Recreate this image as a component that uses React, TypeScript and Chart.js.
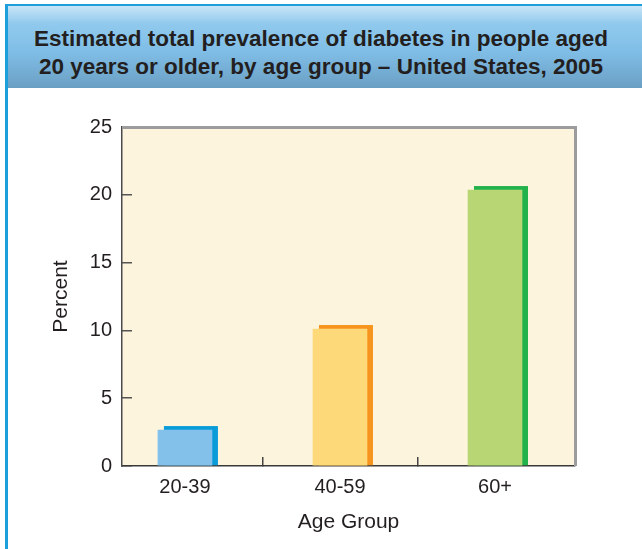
import React, { useEffect, useRef } from "react";
import { Chart, registerables } from "chart.js";

Chart.register(...registerables);

const titleLines = [
  "Estimated total prevalence of diabetes in people aged",
  "20 years or older, by age group \u2013 United States, 2005",
];
const categories = ["20-39", "40-59", "60+"];
const prevalence = [2.65, 10.1, 20.35];
const frontColors = ["#83c1ea", "#fdd97a", "#b8d673"];
const shadowColors = ["#0a9bd9", "#f7941e", "#22b24c"];
const yMin = 0;
const yMax = 25;
const yStep = 5;
const xTitle = "Age Group";
const yTitle = "Percent";

const FONT = "'Liberation Sans', Arial, Helvetica, sans-serif";

export default function App() {
  const ref = useRef<HTMLCanvasElement | null>(null);

  useEffect(() => {
    const canvas = ref.current;
    if (!canvas) return;

    const plotBackground = {
      id: "plotBackground",
      beforeDraw(chart: any) {
        const { ctx, chartArea: a } = chart;
        ctx.save();
        ctx.fillStyle = "#fdf4de";
        ctx.fillRect(a.left, a.top, a.right - a.left, a.bottom - a.top);
        ctx.restore();
      },
    };

    const shadowBars = {
      id: "shadowBars",
      beforeDatasetsDraw(chart: any) {
        const { ctx } = chart;
        const meta = chart.getDatasetMeta(0);
        const dx = 6;
        const dy = 4;
        ctx.save();
        meta.data.forEach((el: any, i: number) => {
          const p = el.getProps(["x", "y", "base", "width"], true);
          ctx.fillStyle = shadowColors[i];
          ctx.fillRect(p.x - p.width / 2 + dx, p.y - dy, p.width, p.base - p.y + dy);
        });
        ctx.restore();
      },
    };

    const frame = {
      id: "frame",
      afterDatasetsDraw(chart: any) {
        const { ctx, chartArea: a } = chart;
        ctx.save();
        ctx.strokeStyle = "#9c9c9e";
        ctx.lineWidth = 3;
        ctx.beginPath();
        ctx.moveTo(a.left, a.top + 0.5);
        ctx.lineTo(a.right + 0.5, a.top + 0.5);
        ctx.lineTo(a.right + 0.5, a.bottom);
        ctx.stroke();
        ctx.restore();
      },
    };

    const chart = new Chart(canvas, {
      type: "bar",
      data: {
        datasets: [
          {
            data: prevalence.map((v, i) => ({ x: i, y: v })),
            backgroundColor: frontColors,
            borderWidth: 0,
            barThickness: 54,
          },
        ],
      },
      options: {
        animation: false,
        responsive: false,
        maintainAspectRatio: false,
        layout: { padding: { top: 127, right: 67, bottom: 0, left: 0 } },
        plugins: {
          legend: { display: false },
          tooltip: { enabled: false },
          title: { display: false },
        },
        scales: {
          x: {
            type: "linear",
            offset: false,
            min: -0.406,
            max: 2.516,
            afterBuildTicks(scale: any) {
              scale.ticks = categories.map((_, i) => ({ value: i }));
            },
            afterFit(scale: any) {
              scale.height = 83;
            },
            ticks: {
              callback: (v: any) => categories[v as number] ?? "",
              color: "#231f20",
              font: { family: FONT, size: 20 },
              padding: 18,
              maxRotation: 0,
              autoSkip: false,
            },
            grid: {
              offset: true,
              drawOnChartArea: false,
              tickLength: -9,
              color: (c: any) =>
                c.index > 0 && c.index < categories.length ? "#444" : "rgba(0,0,0,0)",
              lineWidth: 1.5,
            },
            border: { display: true, color: "#3a3a3a", width: 1.5 },
            title: {
              display: true,
              text: xTitle,
              color: "#231f20",
              font: { family: FONT, size: 21 },
              padding: { top: 0, bottom: 14 },
            },
          },
          y: {
            min: yMin,
            max: yMax,
            ticks: {
              stepSize: yStep,
              color: "#231f20",
              font: { family: FONT, size: 20 },
              padding: 20,
            },
            afterFit(scale: any) {
              scale.width = 122;
            },
            grid: {
              drawOnChartArea: false,
              tickLength: -10,
              color: "#555",
              lineWidth: 1.5,
            },
            border: { display: true, color: "#4a4a4a", width: 1.5 },
            title: {
              display: true,
              text: yTitle,
              color: "#231f20",
              font: { family: FONT, size: 21 },
              padding: { top: 49, bottom: 0 },
            },
          },
        },
      },
      plugins: [plotBackground, shadowBars, frame],
    });

    return () => chart.destroy();
  }, []);

  return (
    <div
      style={{
        position: "fixed",
        left: 0,
        top: 0,
        width: 642,
        height: 549,
        background: "#ffffff",
        overflow: "hidden",
      }}
    >
      <canvas
        ref={ref}
        width={642}
        height={549}
        style={{ position: "absolute", left: 0, top: 0, width: 642, height: 549 }}
      />
      <div
        style={{
          position: "absolute",
          left: 8,
          top: 6,
          width: 634,
          height: 82,
          background:
            "linear-gradient(to bottom, #c8e5f7 0%, #90c9ed 22%, #80bee7 55%, #6b9fc4 100%)",
        }}
      />
      <div
        style={{
          position: "absolute",
          left: 8,
          top: 25,
          width: 626,
          textAlign: "center",
          fontFamily: FONT,
          fontWeight: "bold",
          fontSize: 22.5,
          lineHeight: "28px",
          color: "#231f20",
          whiteSpace: "nowrap",
        }}
      >
        {titleLines.map((t, i) => (
          <div key={i}>{t}</div>
        ))}
      </div>
      <div
        style={{
          position: "absolute",
          left: 6,
          top: 4,
          width: 636,
          height: 2,
          background: "#1d9fdb",
        }}
      />
      <div
        style={{
          position: "absolute",
          left: 5,
          top: 4,
          width: 3,
          height: 545,
          background: "#1d9fdb",
        }}
      />
    </div>
  );
}
